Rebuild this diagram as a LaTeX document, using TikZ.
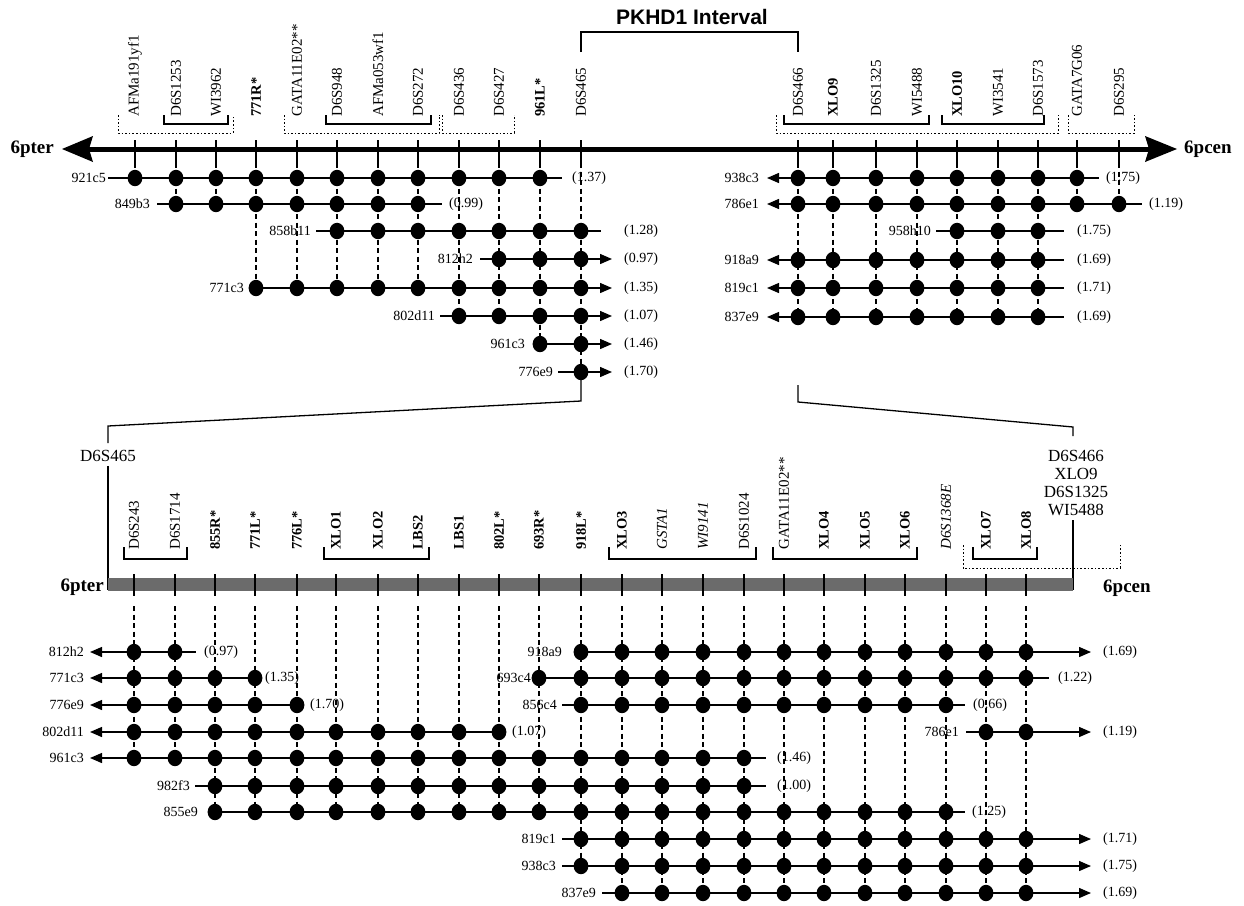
\documentclass[tikz,border=0pt]{standalone}
\usepackage{fontspec}
\setmainfont{Liberation Serif}
\newfontfamily\hvfont{Liberation Sans}
\usetikzlibrary{arrows.meta}
\tikzset{
 rowlab/.style={font=\fontsize{14}{15}\selectfont, inner sep=0pt, anchor=east},
 vallab/.style={font=\fontsize{14}{15}\selectfont, inner sep=0pt, anchor=west},
 mk/.style={font=\fontsize{15}{16}\selectfont, inner sep=0pt, rotate=90, anchor=west},
 mkb/.style={mk, font=\fontsize{14.5}{16}\selectfont\bfseries},
 mki/.style={mk, font=\fontsize{15}{16}\selectfont\itshape},
 endlab/.style={font=\fontsize{19}{20}\selectfont\bfseries, inner sep=0pt},
 rowln/.style={line width=1.4pt},
 rarr/.style={rowln, -{Triangle[length=12pt,width=10pt]}},
 larr/.style={rowln, {Triangle[length=12pt,width=10pt]}-},
 vdash/.style={line width=1.3pt, dash pattern=on 5pt off 3.5pt},
 tickln/.style={line width=1.5pt},
 brk/.style={line width=1.3pt},
 dotbox/.style={line width=0.9pt, dash pattern=on 1.6pt off 2pt},
 zoomln/.style={line width=1.3pt},
}
\newcommand\dotrow[2]{\foreach \xx in {#2}{\fill (\xx,#1) ellipse [x radius=7.4pt, y radius=8.2pt];}}
\begin{document}
\begin{tikzpicture}[x=1pt,y=-1pt]
\useasboundingbox (0,0) rectangle (1244,905);

% ---------- title bracket ----------
\node[font=\hvfont\bfseries\fontsize{21}{24}\selectfont, inner sep=0pt] (title) at (692,17) {PKHD1 Interval};
\draw[brk] (581,52) -- (581,32) -- (798,32) -- (798,52);

% ---------- top marker labels ----------
\foreach \x/\t in {135/AFMa191yf1,176/D6S1253,216/WI3962,297/GATA11E02**,337/D6S948,378/AFMa053wf1,418/D6S272,459/D6S436,499/D6S427,581/D6S465,798/D6S466,876/D6S1325,917/WI5488,998/WI3541,1038/D6S1573,1077/GATA7G06,1119/D6S295}
  \node[mk] at (\x,117) {\t};
\foreach \x/\t in {256/771R*,540/961L*,833/XLO9,957/XLO10}
  \node[mkb] at (\x,117) {\t};

% brackets and dotted boxes (top)
\foreach \a/\b in {164/228,326/431,784/929,942/1044}
  \draw[brk] (\a,115) -- (\a,124) -- (\b,124) -- (\b,115);
\foreach \a/\b in {118/233,284/439,442/514,776/1058,1068/1134}
  \draw[dotbox] (\a,115) -- (\a,133) -- (\b,133) -- (\b,115);

% ---------- top axis ----------
\draw[line width=5pt] (88,149) -- (1150,149);
\fill (62,149) -- (93,136) -- (89,149) -- (93,162) -- cycle;
\fill (1177,149) -- (1145,136) -- (1149,149) -- (1145,162) -- cycle;
\node[endlab, anchor=east] (pterA) at (54,149) {6pter};
\node[endlab, anchor=west] (pcenA) at (1184,149) {6pcen};

% ticks and dashed verticals (top)
\foreach \x/\yb in {135/178,176/204,216/204,256/288,297/288,337/288,378/288,418/288,459/316,499/316,540/344,581/372,798/317,833/317,876/317,917/317,957/317,998/317,1038/317,1077/204,1119/204}{
  \draw[tickln] (\x,140) -- (\x,163);
  \draw[vdash] (\x,163) -- (\x,\yb);
}

% ---------- top-left rows ----------
\node[rowlab] (r1) at (106,178) {921c5};
\draw[rowln] (108,178) -- (562,178);
\dotrow{178}{135,176,216,256,297,337,378,418,459,499,540}
\node[vallab] at (572,178) {(1.37)};

\node[rowlab] (r2) at (150,204) {849b3};
\draw[rowln] (157,204) -- (442,204);
\dotrow{204}{176,216,256,297,337,378,418}
\node[vallab] at (449,204) {(0.99)};

\node[rowlab] (r3) at (311,231) {858b11};
\draw[rowln] (316,231) -- (601,231);
\dotrow{231}{337,378,418,459,499,540,581}
\node[vallab] at (624,231) {(1.28)};

\node[rowlab] (r4) at (473,259) {812h2};
\draw[rarr] (480,259) -- (612,259);
\dotrow{259}{499,540,581}
\node[vallab] at (624,259) {(0.97)};

\node[rowlab] (r5) at (244,288) {771c3};
\draw[rarr] (256,288) -- (612,288);
\dotrow{288}{256,297,337,378,418,459,499,540,581}
\node[vallab] at (624,288) {(1.35)};

\node[rowlab] (r6) at (435,316) {802d11};
\draw[rarr] (440,316) -- (612,316);
\dotrow{316}{459,499,540,581}
\node[vallab] at (624,316) {(1.07)};

\node[rowlab] (r7) at (525,344) {961c3};
\draw[rarr] (540,344) -- (612,344);
\dotrow{344}{540,581}
\node[vallab] at (624,344) {(1.46)};

\node[rowlab] (r8) at (553,372) {776e9};
\draw[rarr] (558,372) -- (612,372);
\dotrow{372}{581}
\node[vallab] at (624,372) {(1.70)};

% ---------- top-right rows ----------
\node[rowlab] (s1) at (759,178) {938c3};
\draw[larr] (767,178) -- (1099,178);
\dotrow{178}{798,833,876,917,957,998,1038,1077}
\node[vallab] at (1106,178) {(1.75)};

\node[rowlab] (s2) at (759,204) {786e1};
\draw[larr] (767,204) -- (1142,204);
\dotrow{204}{798,833,876,917,957,998,1038,1077,1119}
\node[vallab] at (1149,204) {(1.19)};

\node[rowlab] (s3) at (931,231) {958h10};
\draw[rowln] (936,231) -- (1064,231);
\dotrow{231}{957,998,1038}
\node[vallab] at (1077,231) {(1.75)};

\node[rowlab] (s4) at (759,260) {918a9};
\draw[larr] (767,260) -- (1064,260);
\dotrow{260}{798,833,876,917,957,998,1038}
\node[vallab] at (1077,260) {(1.69)};

\node[rowlab] (s5) at (759,288) {819c1};
\draw[larr] (767,288) -- (1064,288);
\dotrow{288}{798,833,876,917,957,998,1038}
\node[vallab] at (1077,288) {(1.71)};

\node[rowlab] (s6) at (759,317) {837e9};
\draw[larr] (767,317) -- (1064,317);
\dotrow{317}{798,833,876,917,957,998,1038}
\node[vallab] at (1077,317) {(1.69)};

% ---------- zoom lines ----------
\coordinate (zl1) at (581,372);
\coordinate (zl2) at (581,401);
\coordinate (zl3) at (108,426);
\coordinate (zl4) at (108,443);
\draw[zoomln] (zl1) -- (zl2) -- (zl3) -- (zl4);
\node[font=\fontsize{17}{18}\selectfont, inner sep=0pt] (d465) at (108,456) {D6S465};
\draw[zoomln] (d465.south -| zl4) ++(0,4) -- (108,590);

\coordinate (zr1) at (798,385);
\coordinate (zr2) at (798,402);
\coordinate (zr3) at (1073,427);
\coordinate (zr4) at (1073,436);
\draw[zoomln] (zr1) -- (zr2) -- (zr3) -- (zr4);
\node[font=\fontsize{17}{18}\selectfont, inner sep=0pt, align=center] (d466) at (1076,483) {D6S466\\XLO9\\D6S1325\\WI5488};
\draw[zoomln] (1073,520) -- (1073,590);

% ---------- bottom marker labels ----------
\foreach \x/\t in {134/D6S243,175/D6S1714,744/D6S1024,784/GATA11E02**}
  \node[mk] at (\x,550) {\t};
\foreach \x/\t in {215/855R*,255/771L*,297/776L*,336/XLO1,378/XLO2,418/LBS2,459/LBS1,499/802L*,539/693R*,581/918L*,622/XLO3,824/XLO4,865/XLO5,905/XLO6,986/XLO7,1026/XLO8}
  \node[mkb] at (\x,550) {\t};
\foreach \x/\t in {662/GSTA1,703/WI9141,946/D6S1368E}
  \node[mki] at (\x,550) {\t};

\foreach \a/\b in {124/187,324/429,609/756,773/917,973/1037}
  \draw[brk] (\a,547) -- (\a,559) -- (\b,559) -- (\b,547);
\draw[dotbox] (963,545) -- (963,568) -- (1120,568) -- (1120,545);

% ---------- bottom bar ----------
\fill[black!58] (108,578) rectangle (1073,591);
\node[endlab, anchor=east] (pterB) at (104,587) {6pter};
\node[endlab, anchor=west] (pcenB) at (1103,588) {6pcen};

\foreach \x/\yb in {134/758,175/758,215/812,255/812,297/812,336/812,378/812,418/812,459/812,499/812,539/812,581/866,622/893,662/893,703/893,744/893,784/893,824/893,865/893,905/893,946/893,986/893,1026/893}{
  \draw[tickln] (\x,574) -- (\x,596);
  \draw[vdash] (\x,606) -- (\x,\yb);
}

% ---------- bottom rows ----------
\node[rowlab] (b1) at (84,652) {812h2};
\draw[larr] (90,652) -- (196,652);
\dotrow{652}{134,175}
\node[vallab] at (204,652) {(0.97)};

\node[rowlab] (b2) at (84,678) {771c3};
\draw[larr] (90,678) -- (255,678);
\dotrow{678}{134,175,215,255}
\node[vallab] at (265,678) {(1.35)};

\node[rowlab] (b3) at (84,705) {776e9};
\draw[larr] (90,705) -- (297,705);
\dotrow{705}{134,175,215,255,297}
\node[vallab] at (310,705) {(1.70)};

\node[rowlab] (b4) at (84,732) {802d11};
\draw[larr] (90,732) -- (499,732);
\dotrow{732}{134,175,215,255,297,336,378,418,459,499}
\node[vallab] at (512,732) {(1.07)};

\node[rowlab] (b5) at (84,758) {961c3};
\draw[larr] (90,758) -- (766,758);
\dotrow{758}{134,175,215,255,297,336,378,418,459,499,539,581,622,662,703,744}
\node[vallab] at (777,758) {(1.46)};

\node[rowlab] (b6) at (190,786) {982f3};
\draw[rowln] (195,786) -- (766,786);
\dotrow{786}{215,255,297,336,378,418,459,499,539,581,622,662,703,744}
\node[vallab] at (777,786) {(1.00)};

\node[rowlab] (b7) at (198,812) {855e9};
\draw[rowln] (215,812) -- (965,812);
\dotrow{812}{215,255,297,336,378,418,459,499,539,581,622,662,703,744,784,824,865,905,946}
\node[vallab] at (972,812) {(1.25)};

\node[rowlab] (c1) at (562,652) {918a9};
\draw[rarr] (581,652) -- (1091,652);
\dotrow{652}{581,622,662,703,744,784,824,865,905,946,986,1026}
\node[vallab] at (1103,652) {(1.69)};

\node[rowlab] (c2) at (531,678) {693c4};
\draw[rowln] (539,678) -- (1049,678);
\dotrow{678}{539,581,622,662,703,744,784,824,865,905,946,986,1026}
\node[vallab] at (1058,678) {(1.22)};

\node[rowlab] (c3) at (557,705) {856c4};
\draw[rowln] (562,705) -- (965,705);
\dotrow{705}{581,622,662,703,744,784,824,865,905,946}
\node[vallab] at (973,705) {(0.66)};

\node[rowlab] (c4) at (959,732) {786e1};
\draw[rarr] (966,732) -- (1091,732);
\dotrow{732}{986,1026}
\node[vallab] at (1103,732) {(1.19)};

\node[rowlab] (c5) at (556,839) {819c1};
\draw[rarr] (562,839) -- (1091,839);
\dotrow{839}{581,622,662,703,744,784,824,865,905,946,986,1026}
\node[vallab] at (1103,839) {(1.71)};

\node[rowlab] (c6) at (556,866) {938c3};
\draw[rarr] (562,866) -- (1091,866);
\dotrow{866}{581,622,662,703,744,784,824,865,905,946,986,1026}
\node[vallab] at (1103,866) {(1.75)};

\node[rowlab] (c7) at (596,893) {837e9};
\draw[rarr] (602,893) -- (1091,893);
\dotrow{893}{622,662,703,744,784,824,865,905,946,986,1026}
\node[vallab] at (1103,893) {(1.69)};

\end{tikzpicture}
\end{document}
